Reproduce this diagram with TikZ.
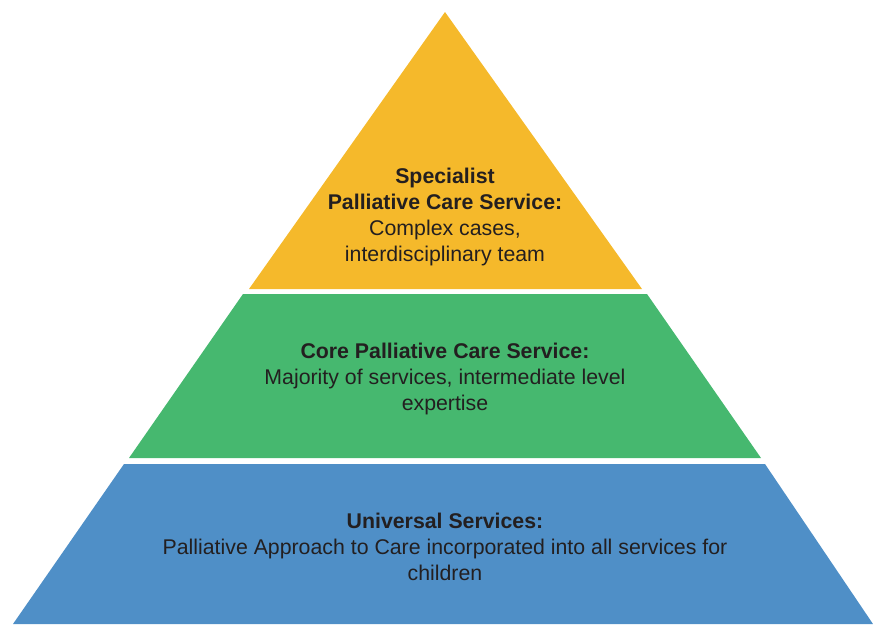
\documentclass[tikz,border=0pt]{standalone}
\usepackage{fontspec}
\setmainfont{Liberation Sans}
\definecolor{tiertop}{HTML}{F5B92B}
\definecolor{tiermid}{HTML}{46B86F}
\definecolor{tierbase}{HTML}{4F8FC7}
\definecolor{tiertext}{HTML}{231F20}
\begin{document}
\begin{tikzpicture}[x=1pt,y=-1pt,
  tiertxt/.style={align=center,text=tiertext,font=\fontsize{21.3}{26}\selectfont,inner sep=0pt}]
\useasboundingbox (0,0) rectangle (873,624);
% pyramid tiers
\fill[tiertop] (445,12) -- (642,289) -- (249,289) -- cycle;
\fill[tiermid] (243,294) -- (647,294) -- (761,458) -- (129,458) -- cycle;
\fill[tierbase] (124,464) -- (765,464) -- (873,624) -- (13,624) -- cycle;
% tier labels
\node[tiertxt] (spec) at (445,217) {\textbf{Specialist}\\\textbf{Palliative Care Service:}\\Complex cases,\\interdisciplinary team};
\node[tiertxt] (core) at (445,379) {\textbf{Core Palliative Care Service:}\\Majority of services, intermediate level\\expertise};
\node[tiertxt] (univ) at (445,547) {\textbf{Universal Services:}\\Palliative Approach to Care incorporated into all services for\\children};
\end{tikzpicture}
\end{document}
